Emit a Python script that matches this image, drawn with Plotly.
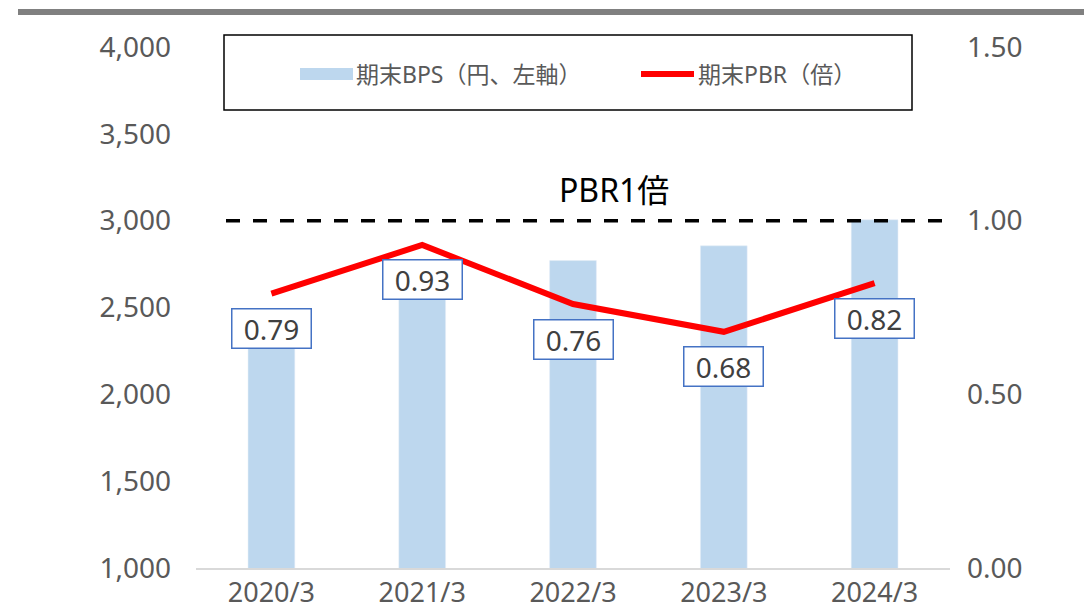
import plotly.graph_objects as go

categories = ["2020/3", "2021/3", "2022/3", "2023/3", "2024/3"]
bps_values = [2440, 2665, 2770, 2855, 3005]
pbr_values = [0.79, 0.93, 0.76, 0.68, 0.82]
pbr_labels = ["0.79", "0.93", "0.76", "0.68", "0.82"]
pbr_threshold = 1.0
left_ticks = [1000, 1500, 2000, 2500, 3000, 3500, 4000]
right_ticks = [0.0, 0.5, 1.0, 1.5]

W, H = 1084, 609
L, R, T, B = 196, 134, 47, 41
PW, PH = W - L - R, H - T - B

def px(x):
    return (x - L) / PW

def py(y):
    return (H - B - y) / PH

FONT = "Noto Sans, Noto Sans CJK JP, sans-serif"
GRAY = "#595959"

fig = go.Figure()
fig.add_trace(go.Bar(x=categories, y=bps_values, marker_color="#BDD7EE",
                     name="期末BPS（円、左軸）", yaxis="y", showlegend=False))
fig.add_trace(go.Scatter(x=categories, y=pbr_values, mode="lines",
                         line=dict(color="#FF0000", width=6),
                         name="期末PBR（倍）", yaxis="y2", showlegend=False))

for c, v, t in zip(categories, pbr_values, pbr_labels):
    fig.add_annotation(x=c, y=v, yref="y2", text=t, showarrow=False, yshift=-35,
                       font=dict(family=FONT, size=28, color="#404040"),
                       bgcolor="white", bordercolor="#4472C4", borderwidth=1.5,
                       width=76, height=36, borderpad=1)

# PBR 1x reference line
fig.add_shape(type="line", xref="paper", yref="y2", x0=px(226), x1=px(946),
              y0=pbr_threshold, y1=pbr_threshold,
              line=dict(color="black", width=3.5, dash="14px,13px"))
fig.add_annotation(xref="paper", yref="paper", x=px(614), y=py(190), text="PBR1倍",
                   xanchor="center", yanchor="middle",
                   showarrow=False, font=dict(family=FONT, size=32, color="black"))

# top gray rule
fig.add_shape(type="line", xref="paper", yref="paper", x0=px(18), x1=px(1084),
              y0=py(12), y1=py(12), line=dict(color="#808080", width=6))

# legend box
fig.add_shape(type="rect", xref="paper", yref="paper", x0=px(224), x1=px(912),
              y0=py(110), y1=py(35), line=dict(color="black", width=1.5),
              fillcolor="white", layer="below")
fig.add_shape(type="rect", xref="paper", yref="paper", x0=px(300), x1=px(353),
              y0=py(80), y1=py(68), line=dict(width=0), fillcolor="#BDD7EE")
fig.add_shape(type="line", xref="paper", yref="paper", x0=px(641), x1=px(694),
              y0=py(74), y1=py(74), line=dict(color="#FF0000", width=6))
fig.add_annotation(xref="paper", yref="paper", x=px(354), y=py(74), xanchor="left",
                   yanchor="middle", text="期末BPS（円、左軸）", showarrow=False,
                   font=dict(family=FONT, size=23, color=GRAY))
fig.add_annotation(xref="paper", yref="paper", x=px(696), y=py(74), xanchor="left",
                   yanchor="middle", text="期末PBR（倍）", showarrow=False,
                   font=dict(family=FONT, size=23, color=GRAY))

fig.update_layout(
    width=W, height=H, margin=dict(l=L, r=R, t=T, b=B, autoexpand=False),
    paper_bgcolor="white", plot_bgcolor="white",
    bargap=0.69, showlegend=False,
    font=dict(family=FONT, color=GRAY),
    xaxis=dict(showgrid=False, showline=True, linecolor="#D9D9D9", linewidth=2,
               automargin=False,
               tickfont=dict(size=27, color=GRAY), ticks="", ticklabelstandoff=0),
    yaxis=dict(range=[1000, 4000], tickvals=left_ticks, tickformat=",",
               automargin=False,
               showgrid=False, zeroline=False, showline=False,
               tickfont=dict(size=28, color=GRAY), ticklabelstandoff=24),
    yaxis2=dict(range=[0, 1.5], tickvals=right_ticks, tickformat=".2f",
                automargin=False,
                overlaying="y", side="right", showgrid=False, zeroline=False,
                showline=False, tickfont=dict(size=28, color=GRAY), ticklabelstandoff=16),
)

fig.write_html("out.html")
